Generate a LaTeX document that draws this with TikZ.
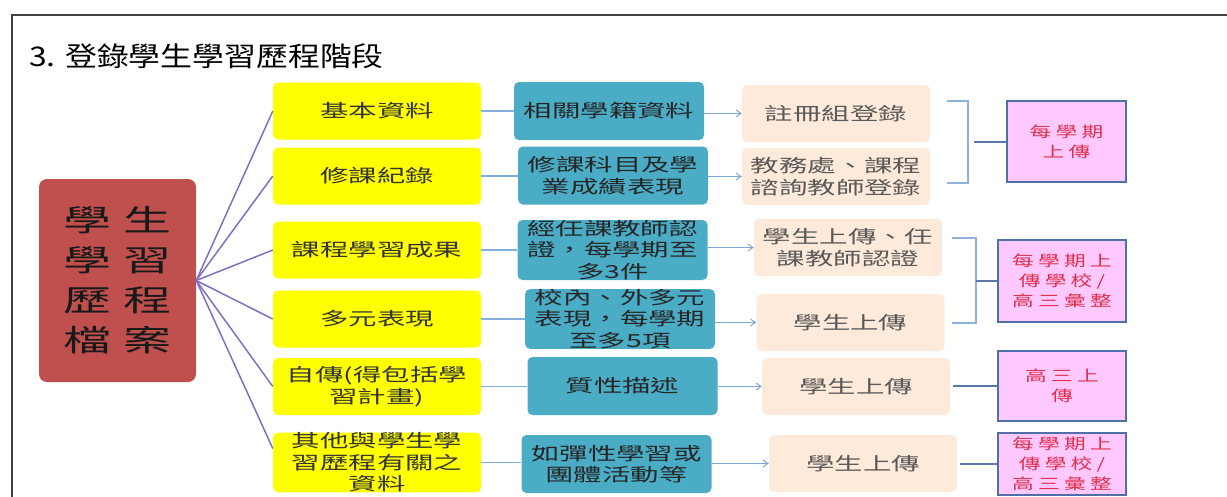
\documentclass[tikz,border=0pt]{standalone}
\usepackage{fontspec}
\usepackage{tikz}
\usetikzlibrary{arrows.meta}

\newfontfamily\boxfont[FakeStretch=1.58]{Noto Sans CJK TC}
\newfontfamily\titlefont[FakeStretch=1.18]{Noto Sans CJK TC}
\newfontfamily\hubfont[FakeStretch=1.6]{Noto Sans CJK TC}
\newfontfamily\notefont[FakeStretch=1.45,LetterSpace=28]{Noto Sans CJK TC}

\definecolor{itemyellow}{HTML}{FFFF00}
\definecolor{detailteal}{HTML}{4BACC6}
\definecolor{stagepeach}{HTML}{FDEADA}
\definecolor{notepink}{HTML}{FFC8FF}
\definecolor{noteblue}{HTML}{4F6FA8}
\definecolor{notered}{HTML}{E0304A}
\definecolor{hubred}{HTML}{C0504D}
\definecolor{fanpurple}{HTML}{8070C0}
\definecolor{linkblue}{HTML}{86AEDB}
\definecolor{flowblue}{HTML}{7FA6D6}
\definecolor{braceblue}{HTML}{8FB2DD}
\definecolor{tickblue}{HTML}{5A78A8}

\tikzset{
    frameline/.style={draw=black!75, line width=2pt},
    titletext/.style={inner sep=0pt, font=\titlefont\fontsize{27}{30}\selectfont},
    hubbox/.style={fill=hubred, rounded corners=8pt, minimum width=157pt, minimum height=203pt,
        inner sep=0pt, align=center, text=black!90, font=\hubfont\fontsize{30}{40}\selectfont},
    itembox/.style={fill=itemyellow, rounded corners=5pt, minimum width=208pt, minimum height=57pt,
        inner sep=0pt, align=center, text=black!80, font=\boxfont\fontsize{18}{21.5}\selectfont},
    detailbox/.style={fill=detailteal, rounded corners=5pt, minimum width=190pt, minimum height=58pt,
        inner sep=0pt, align=center, text=black!85, font=\boxfont\fontsize{18}{21.5}\selectfont},
    stagebox/.style={fill=stagepeach, rounded corners=5pt, minimum width=188pt, minimum height=57pt,
        inner sep=0pt, align=center, text=black!65, font=\boxfont\fontsize{18}{21.5}\selectfont},
    notebox/.style={draw=noteblue, line width=2.5pt, fill=notepink, minimum width=128pt,
        inner sep=0pt, align=center, text=notered, font=\notefont\fontsize{15}{20}\selectfont},
    fan/.style={draw=fanpurple, line width=1.5pt},
    link/.style={draw=linkblue, line width=1.5pt},
    flow/.style={draw=flowblue, line width=1pt, -{Straight Barb[length=5pt,width=7pt]}},
    brace/.style={draw=braceblue, line width=1.2pt},
    tick/.style={draw=tickblue, line width=2pt}
}

\begin{document}
\begin{tikzpicture}[x=1pt, y=-1pt]
        \useasboundingbox (0,0) rectangle (1227,496);
        \draw[frameline] (12,500) |- (1230,15);
        \node[titletext, anchor=west] (title) at (29,56) {3. 登錄學生學習歷程階段};

        \node[hubbox] (hub) at (117.5,280.5) {學\hspace{13pt}生\\學\hspace{13pt}習\\歷\hspace{13pt}程\\檔\hspace{13pt}案};

        \node[itembox] (item1) at (377,111) {基本資料};
        \node[itembox] (item2) at (377,176) {修課紀錄};
        \node[itembox] (item3) at (377,250) {課程學習成果};
        \node[itembox] (item4) at (377,319) {多元表現};
        \node[itembox] (item5) at (377,386.5) {自傳(得包括學\\習計畫)};
        \node[itembox] (item6) at (377,462.5) {其他與學生學\\習歷程有關之\\資料};

        \node[detailbox] (detail1) at (609,111) {相關學籍資料};
        \node[detailbox] (detail2) at (613,175.5) {修課科目及學\\業成績表現};
        \node[detailbox, minimum height=60pt] (detail3) at (612.5,250) {經任課教師認\\證，每學期至\\多3件};
        \node[detailbox] (detail4) at (620,319) {校內、外多元\\表現，每學期\\至多5項};
        \node[detailbox] (detail5) at (622.5,386) {質性描述};
        \node[detailbox] (detail6) at (616.5,464) {如彈性學習或\\團體活動等};

        \node[stagebox] (stage1) at (836,113.5) {註冊組登錄};
        \node[stagebox] (stage2) at (836,176.5) {教務處、課程\\諮詢教師登錄};
        \node[stagebox] (stage3) at (848,247.5) {學生上傳、任\\課教師認證};
        \node[stagebox] (stage4) at (850.5,322.5) {學生上傳};
        \node[stagebox] (stage5) at (856,386.5) {學生上傳};
        \node[stagebox] (stage6) at (863,463.5) {學生上傳};

        \node[notebox, minimum width=119pt, minimum height=81pt] (note1) at (1066.5,141.5) {每學期\\上傳};
        \node[notebox, minimum height=82pt] (note2) at (1062,281) {每學期上\\傳學校/\\高三彙整};
        \node[notebox, minimum height=70pt] (note3) at (1062,386) {高三上\\傳};
        \node[notebox, minimum height=62pt] (note4) at (1062,464) {每學期上\\傳學校/\\高三彙整};

        \foreach \i in {1,...,5}
            \draw[fan] (hub.east) -- (item\i.west);
        \draw[fan] (hub.east) -- ([yshift=14pt]item6.west);

        \foreach \i in {1,...,6} {
            \draw[link] (item\i.east) -- (detail\i.west |- item\i.east);
            \draw[flow] (detail\i.east |- stage\i.west) -- (stage\i.west);
        }

        \draw[brace] (947,101) -| (968,183) -- (947,183);
        \coordinate (join1) at (974,141.5);
        \draw[tick] (join1) -- (note1.west);
        \draw[brace] (952,238) -| (976,323) -- (952,323);
        \coordinate (join2) at (976,281);
        \draw[tick] (join2) -- (note2.west);
        \draw[tick] ([xshift=3pt]stage5.east |- note3.west) -- (note3.west);
        \draw[tick] ([xshift=3pt]stage6.east |- note4.west) -- (note4.west);
\end{tikzpicture}
\end{document}
